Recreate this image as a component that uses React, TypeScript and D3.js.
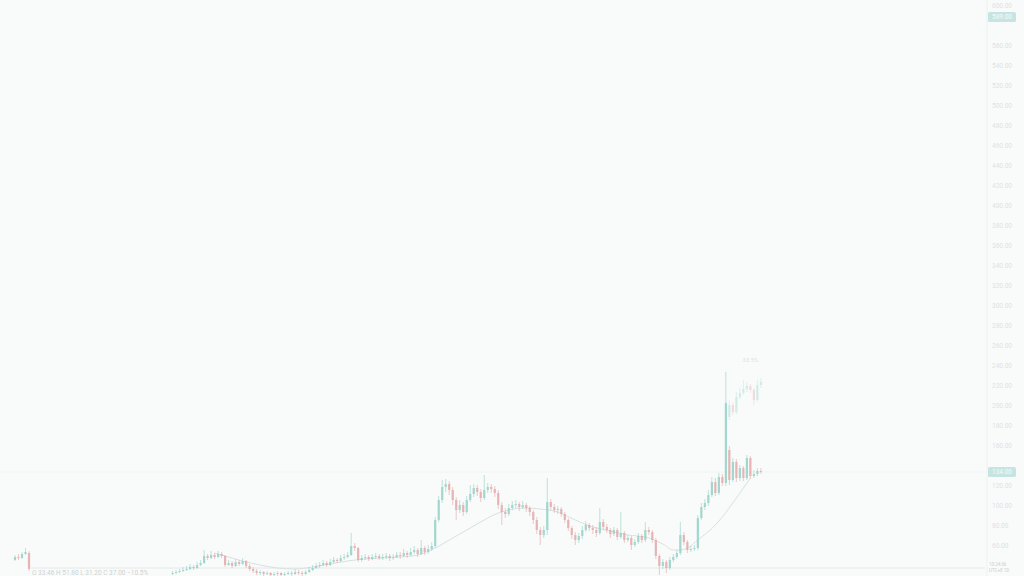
import React, { useRef, useEffect } from "react";
import * as d3 from "d3";

// bar index of the first candle in each block, [open, high, low, close]
const leftStart = 0;
const leftCandles: number[][] = [
  [46, 51, 45, 49], [49, 52, 46, 48], [48, 54, 47, 52], [52, 58, 51, 54], [53, 55, 35, 37],
];

const mainStart = 45;
const mainCandles: number[][] = [
  [32, 35, 31, 33], [33, 36, 32, 34], [34, 37, 33, 35], [35, 39, 34, 36], [36, 40, 35, 37],
  [37, 42, 36, 39], [39, 41, 36, 38], [38, 44, 37, 41], [41, 46, 40, 43], [43, 56, 42, 50],
  [50, 52, 46, 48], [48, 55, 47, 51], [51, 53, 47, 49], [49, 55, 48, 52], [52, 54, 48, 50],
  [50, 51, 39, 41], [41, 46, 40, 43], [43, 45, 38, 40], [40, 47, 39, 44], [44, 46, 40, 42],
  [42, 48, 41, 45], [45, 46, 38, 40], [40, 42, 35, 37], [37, 39, 33, 35], [35, 37, 31, 33],
  [33, 36, 31, 34], [34, 35, 30, 32], [32, 35, 31, 33], [33, 34, 30, 31], [31, 34, 30, 32],
  [32, 35, 30, 33], [33, 34, 30, 31], [31, 34, 30, 32], [32, 35, 31, 33], [33, 35, 30, 32],
  [32, 37, 31, 34], [34, 36, 31, 33], [33, 35, 30, 32], [32, 36, 31, 34], [34, 39, 33, 36],
  [36, 41, 35, 38], [38, 43, 37, 40], [40, 44, 38, 41], [41, 46, 40, 43], [43, 45, 39, 41],
  [41, 47, 40, 44], [44, 49, 43, 46], [46, 48, 43, 45], [45, 51, 44, 48], [48, 52, 46, 49],
  [49, 54, 48, 51], [51, 73, 50, 60], [60, 63, 55, 58], [58, 59, 44, 46], [46, 51, 44, 48],
  [48, 52, 46, 49], [49, 51, 45, 47], [47, 52, 46, 49], [49, 53, 47, 50], [50, 52, 46, 48],
  [48, 52, 46, 49], [49, 53, 47, 50], [50, 52, 45, 48], [48, 52, 46, 49], [49, 54, 48, 51],
  [51, 54, 47, 50], [50, 57, 49, 53], [53, 55, 48, 51], [51, 58, 50, 54], [54, 60, 52, 56],
  [56, 58, 49, 52], [52, 66, 51, 58], [58, 60, 51, 54], [54, 61, 52, 57], [57, 64, 55, 60],
  [60, 89, 58, 86], [86, 110, 84, 106], [106, 126, 103, 119], [119, 127, 114, 122], [122, 125, 111, 116],
  [116, 119, 101, 106], [106, 109, 86, 96], [96, 106, 93, 101], [101, 104, 90, 94], [94, 110, 92, 106],
  [106, 121, 104, 112], [112, 122, 109, 118], [118, 121, 110, 114], [114, 117, 104, 108], [108, 131, 106, 116],
  [116, 123, 113, 119], [119, 122, 113, 117], [117, 120, 109, 113], [113, 116, 97, 101], [101, 104, 81, 94],
  [94, 98, 88, 92], [92, 102, 90, 98], [98, 105, 96, 101], [101, 106, 98, 102], [102, 104, 95, 99],
  [99, 105, 97, 101], [101, 103, 94, 98], [98, 100, 90, 94], [94, 96, 82, 86], [86, 89, 72, 76],
  [76, 79, 61, 71], [71, 80, 68, 76], [76, 128, 71, 104], [104, 107, 96, 99], [99, 102, 93, 96],
  [96, 100, 92, 97], [97, 99, 89, 92], [92, 94, 83, 86], [86, 88, 75, 78], [78, 80, 67, 71],
  [71, 74, 61, 66], [66, 73, 63, 70], [70, 80, 67, 76], [76, 85, 74, 81], [81, 83, 75, 78],
  [78, 81, 72, 76], [76, 79, 69, 73], [73, 98, 71, 84], [84, 87, 76, 79], [79, 82, 73, 76],
  [76, 78, 68, 72], [72, 79, 70, 76], [76, 78, 66, 69], [69, 94, 67, 73], [73, 75, 63, 66],
  [66, 71, 64, 68], [68, 70, 56, 61], [61, 67, 59, 64], [64, 73, 62, 70], [70, 72, 63, 66],
  [66, 84, 64, 76], [76, 79, 71, 74], [74, 76, 63, 66], [66, 68, 47, 50], [50, 52, 31, 40],
  [40, 47, 37, 44], [44, 46, 33, 38], [38, 49, 36, 46], [46, 52, 44, 49], [49, 56, 47, 53],
  [53, 84, 51, 71], [71, 74, 61, 64], [64, 66, 53, 56], [56, 60, 54, 57], [57, 61, 55, 58],
  [58, 91, 56, 88], [88, 103, 86, 99], [99, 107, 96, 103], [103, 116, 100, 111], [111, 129, 109, 124],
  [124, 128, 110, 113], [113, 133, 111, 129], [129, 132, 120, 123], [123, 234, 120, 203], [156, 160, 121, 126],
  [126, 148, 124, 144], [144, 147, 124, 128], [128, 141, 125, 138], [138, 140, 125, 128], [128, 151, 126, 148],
  [148, 150, 127, 130], [130, 136, 128, 132], [132, 138, 130, 135], [135, 138, 132, 134],
];

// faint projected bars above the last candles
const ghostStart = 204;
const ghostCandles: number[][] = [
  [189, 206, 186, 201], [201, 204, 191, 194], [194, 214, 192, 209], [209, 218, 207, 213], [213, 226, 211, 217],
  [217, 224, 214, 220], [220, 222, 213, 216], [216, 218, 201, 206], [206, 226, 204, 221], [221, 228, 218, 224],
];

// moving average, [bar index, value]
const maPoints: number[][] = [
  [57, 53], [60, 50], [65, 45], [70, 41], [75, 38], [80, 37], [85, 39], [90, 42], [95, 45],
  [100, 47], [105, 48], [110, 49], [115, 51], [120, 58], [125, 68], [130, 78], [135, 88],
  [138, 93], [140, 95], [145, 98], [150, 97], [155, 94], [160, 86], [165, 79], [170, 75],
  [175, 71], [180, 69], [185, 62], [188, 56], [190, 56], [192, 58], [195, 66], [200, 81],
  [205, 103], [208, 118], [210, 128],
];

const priceTicks = d3.range(40, 601, 20);
const baseLevel = 38;
const lastPrice = 134;
const topLabel = 589;
const legendText = "O 33.46  H 51.80  L 31.20  C 37.00  −10.5%";
const changeText = "33.5%";

const W = 1024;
const H = 576;

const App: React.FC = () => {
  const svgRef = useRef<SVGSVGElement | null>(null);

  useEffect(() => {
    if (!svgRef.current) return;
    const svg = d3.select(svgRef.current);
    svg.selectAll("*").remove();

    const plotRight = 985;
    const x = d3.scaleLinear().domain([0, 277]).range([15, plotRight]);
    const y = d3.scaleLinear().domain([30, 606]).range([576, 0]);
    const fmt = d3.format(".2f");

    svg.append("rect").attr("width", W).attr("height", H).attr("fill", "#f9fbfb");

    // base line and last price line
    svg.append("line")
      .attr("x1", x(4) + 2).attr("x2", plotRight)
      .attr("y1", y(baseLevel)).attr("y2", y(baseLevel))
      .attr("stroke", "#e3e8e8").attr("stroke-width", 1);
    svg.append("line")
      .attr("x1", 0).attr("x2", plotRight)
      .attr("y1", y(lastPrice)).attr("y2", y(lastPrice))
      .attr("stroke", "#f0f3f3").attr("stroke-width", 1);

    // right price scale
    svg.append("line")
      .attr("x1", plotRight + 2).attr("x2", plotRight + 2)
      .attr("y1", 0).attr("y2", H)
      .attr("stroke", "#eef1f1");

    const axis = svg.append("g").attr("font-family", "Roboto, sans-serif").attr("font-size", 6.5);
    axis.selectAll("text.tick")
      .data(
        priceTicks.filter(
          (p) => y(p) < 560 && Math.abs(y(p) - y(lastPrice)) > 9 && Math.abs(y(p) - y(topLabel)) > 9
        )
      )
      .enter()
      .append("text")
      .attr("class", "tick")
      .attr("x", plotRight + 7)
      .attr("y", (d) => y(d) + 2)
      .attr("fill", "#dde2e2")
      .text((d) => fmt(d));

    const box = (p: number) => {
      axis.append("rect")
        .attr("x", plotRight + 3).attr("y", y(p) - 5)
        .attr("width", 28).attr("height", 10).attr("rx", 1.5)
        .attr("fill", "#c6e5e2");
      axis.append("text")
        .attr("x", plotRight + 17).attr("y", y(p) + 2.2)
        .attr("text-anchor", "middle").attr("fill", "#f4fbfa")
        .text(fmt(p));
    };
    box(topLabel);
    box(lastPrice);

    const drawCandles = (rows: number[][], start: number, opacity: number) => {
      const g = svg.append("g").attr("opacity", opacity);
      const data = rows.map((r, i) => ({ i: start + i, o: r[0], h: r[1], l: r[2], c: r[3] }));
      const col = (d: { o: number; c: number }) => (d.c >= d.o ? "#8dcfc3" : "#e2a3a3");
      g.selectAll("line")
        .data(data)
        .enter()
        .append("line")
        .attr("x1", (d) => x(d.i)).attr("x2", (d) => x(d.i))
        .attr("y1", (d) => y(d.h)).attr("y2", (d) => y(d.l))
        .attr("stroke", col).attr("stroke-width", 0.7);
      g.selectAll("rect")
        .data(data)
        .enter()
        .append("rect")
        .attr("x", (d) => x(d.i) - 1.1)
        .attr("width", 2.2)
        .attr("y", (d) => y(Math.max(d.o, d.c)))
        .attr("height", (d) => Math.max(1, Math.abs(y(d.o) - y(d.c))))
        .attr("fill", col);
    };

    // moving average
    const line = d3.line<number[]>()
      .x((d) => x(d[0]))
      .y((d) => y(d[1]))
      .curve(d3.curveMonotoneX);
    svg.append("path")
      .datum(maPoints)
      .attr("d", line)
      .attr("fill", "none")
      .attr("stroke", "#d9e0e0")
      .attr("stroke-width", 1);

    drawCandles(leftCandles, leftStart, 0.8);
    drawCandles(mainCandles, mainStart, 0.8);
    drawCandles(ghostCandles, ghostStart, 0.35);

    // faint texts
    svg.append("text")
      .attr("x", x(ghostStart) + 13).attr("y", y(244))
      .attr("font-family", "Roboto, sans-serif").attr("font-size", 6)
      .attr("fill", "#dde2e2")
      .text(changeText);
    svg.append("text")
      .attr("x", 32).attr("y", 575)
      .attr("font-family", "Roboto, sans-serif").attr("font-size", 6.5)
      .attr("fill", "#cdd2d2")
      .text(legendText);
    svg.append("text")
      .attr("x", plotRight + 4).attr("y", 566)
      .attr("font-family", "Roboto, sans-serif").attr("font-size", 4.5)
      .attr("fill", "#c8cdcd")
      .text("10:24:36");
    svg.append("text")
      .attr("x", plotRight + 4).attr("y", 572)
      .attr("font-family", "Roboto, sans-serif").attr("font-size", 4.5)
      .attr("fill", "#c8cdcd")
      .text("UTC+8 1D");
  }, []);

  return (
    <div style={{ position: "fixed", left: 0, top: 0, width: W, height: H }}>
      <svg ref={svgRef} width={W} height={H} style={{ display: "block" }}></svg>
    </div>
  );
};

export default App;
